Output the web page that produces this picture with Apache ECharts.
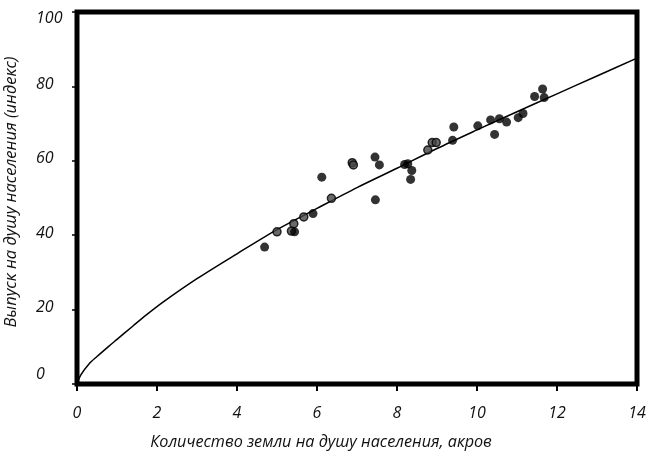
<!DOCTYPE html>
<html>
<head>
<meta charset="utf-8">
<script src="https://cdn.jsdelivr.net/npm/echarts@6/dist/echarts.min.js"></script>
<style>
html,body{margin:0;padding:0;background:#fff;}
#main{width:647px;height:459px;}
</style>
</head>
<body>
<div id="main"></div>
<script>
// Land per capita (acres) / output per capita (index)
var solidLand   = [4.69, 5.44, 5.90, 6.12, 7.45, 7.56, 7.46, 8.19, 8.27, 8.37, 8.34, 9.39, 9.42, 10.02, 10.34, 10.56, 10.44, 10.74, 11.03, 11.15, 11.44, 11.64, 11.68];
var solidOutput = [36.8, 40.9, 45.8, 55.6, 61.0, 58.9, 49.5, 59.0, 59.2, 57.4, 55.0, 65.5, 69.1, 69.4, 71.0, 71.3, 67.1, 70.4, 71.6, 72.7, 77.3, 79.3, 77.0];
var hatchLand   = [5.00, 5.36, 5.42, 5.67, 6.36, 6.88, 6.91, 8.77, 8.88, 8.98];
var hatchOutput = [40.9, 41.1, 43.1, 44.9, 49.9, 59.5, 58.9, 62.9, 64.9, 64.9];
var curveLand   = [0, 0.1, 0.3, 0.5, 0.8, 1.0, 1.4, 1.75, 2.15, 3, 4, 5, 6, 7, 8, 9, 10, 11, 12, 13, 14];
var curveOutput = [0, 2.5, 5.4, 7.4, 10.2, 12.0, 15.6, 18.7, 22.0, 28.3, 35.0, 41.5, 47.2, 52.8, 58.0, 63.3, 68.3, 73.2, 78.0, 82.8, 87.6];
var xTicks = [0, 2, 4, 6, 8, 10, 12, 14];
var yTicks = [0, 20, 40, 60, 80, 100];

function pairs(a, b) { return a.map(function (v, i) { return [v, b[i]]; }); }

var FONT = 'Open Sans';
var chart = echarts.init(document.getElementById('main'));
chart.setOption({
  animation: false,
  backgroundColor: '#fff',
  grid: { left: 77, right: 10, top: 12, bottom: 75, outerBoundsMode: 'none', containLabel: false,
          show: true, borderColor: '#000', borderWidth: 5, backgroundColor: 'transparent' },
  xAxis: {
    type: 'value', min: xTicks[0], max: xTicks[xTicks.length - 1], interval: 2,
    name: 'Количество земли на душу населения, акров',
    nameLocation: 'middle', nameGap: 50,
    nameTextStyle: { fontFamily: FONT, fontStyle: 'italic', fontSize: 16.2, color: '#111', padding: [0, 72, 0, 0] },
    axisLine: { show: false },
    axisTick: { show: true, length: 7, lineStyle: { color: '#000', width: 2 } },
    splitLine: { show: false },
    axisLabel: { margin: 21, fontFamily: FONT, fontStyle: 'italic', fontSize: 16, color: '#111' }
  },
  yAxis: {
    type: 'value', min: yTicks[0], max: yTicks[yTicks.length - 1], interval: 20,
    name: 'Выпуск на душу населения (индекс)',
    nameLocation: 'middle', nameGap: 57, nameRotate: 90,
    nameTextStyle: { fontFamily: FONT, fontStyle: 'italic', fontSize: 16.5, color: '#111', padding: [0, 0, 0, 12] },
    axisLine: { show: false },
    axisTick: { show: true, length: 5, lineStyle: { color: '#000', width: 1.5 } },
    splitLine: { show: false },
    axisLabel: {
      margin: 41, align: 'left', fontFamily: FONT, fontStyle: 'italic', fontSize: 16, color: '#111', lineHeight: 4,
      formatter: function (v) {
        if (v === 0) return v + '\n\n\n\n\n';
        if (v === 100) return '\n\n\n' + v;
        return v + '\n';
      }
    }
  },
  series: [
    {
      type: 'line', data: pairs(curveLand, curveOutput), smooth: 0.3, showSymbol: false,
      lineStyle: { color: '#000', width: 1.5 }, z: 2
    },
    {
      type: 'scatter', data: pairs(hatchLand, hatchOutput), symbol: 'circle', symbolSize: 8,
      itemStyle: { color: '#444', borderColor: '#000', borderWidth: 1.5 }, z: 3
    },
    {
      type: 'scatter', data: pairs(solidLand, solidOutput), symbol: 'circle', symbolSize: 9,
      itemStyle: { color: '#000' }, z: 4
    }
  ]
});
</script>
</body>
</html>
